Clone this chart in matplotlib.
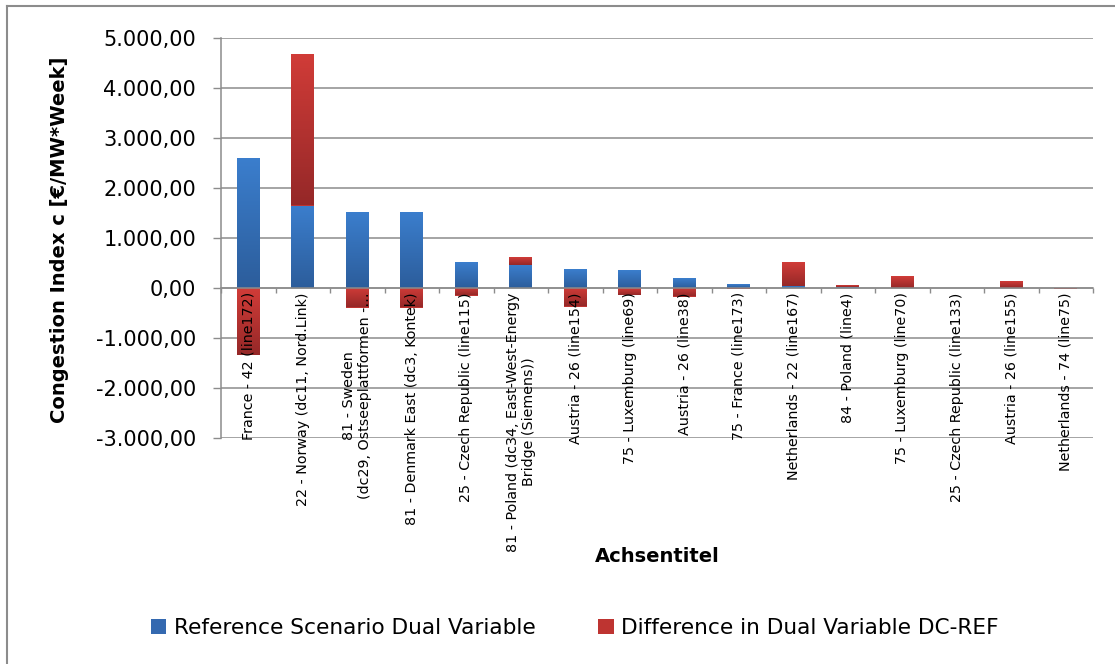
import numpy as np
import matplotlib
matplotlib.use("Agg")
import matplotlib.pyplot as plt
from matplotlib.colors import LinearSegmentedColormap
from matplotlib.patches import Patch
from matplotlib.lines import Line2D
from matplotlib.ticker import FixedLocator, FuncFormatter

plt.rcParams['font.family'] = ['DejaVu Sans']

categories = [
    "France - 42 (line172)",
    "22 - Norway (dc11, Nord.Link)",
    "81 - Sweden\n(dc29, Ostseeplattformen -\u2026",
    "81 - Denmark East (dc3, Kontek)",
    "25 - Czech Republic (line115)",
    "81 - Poland (dc34, East-West-Energy\nBridge (Siemens))",
    "Austria - 26 (line154)",
    "75 - Luxemburg (line69)",
    "Austria - 26 (line38)",
    "75 - France (line173)",
    "Netherlands - 22 (line167)",
    "84 - Poland (line4)",
    "75 - Luxemburg (line70)",
    "25 - Czech Republic (line133)",
    "Austria - 26 (line155)",
    "Netherlands - 74 (line75)",
]
ref_values = [2600, 1650, 1520, 1520, 520, 460, 380, 360, 200, 80, 40, 20, 0, 0, 0, 0]
diff_values = [-1340, 3030, -390, -390, -150, 160, -370, -140, -170, -20, 480, 40, 240, 0, 140, -12]
series_names = ["Reference Scenario Dual Variable", "Difference in Dual Variable DC-REF"]
y_ticks = [-3000, -2000, -1000, 0, 1000, 2000, 3000, 4000, 5000]

W, H = 1115, 664
fig = plt.figure(figsize=(W / 100, H / 100), dpi=100)
ax = fig.add_axes([221 / W, 1 - 438 / H, (1093 - 221) / W, 400 / H])

gray = "#8c8c8c"
for s in ("top", "right"):
    ax.spines[s].set_visible(False)
ax.spines["left"].set_color(gray)
ax.spines["left"].set_linewidth(1.1)
ax.spines["bottom"].set_position(("data", 0))
ax.spines["bottom"].set_color(gray)
ax.spines["bottom"].set_linewidth(1.1)
ax.spines["bottom"].set_zorder(4)

x = np.arange(len(categories))
ref = np.array(ref_values, dtype=float)
diff = np.array(diff_values, dtype=float)
diff_bottom = np.where(diff >= 0, np.maximum(ref, 0), np.minimum(ref, 0))

blue_mid, red_mid = "#3469b0", "#be3431"
blue_cmap = LinearSegmentedColormap.from_list("b", ["#2c5d9b", "#3b7ecd"])
red_cmap = LinearSegmentedColormap.from_list("r", ["#952828", "#d13c38"])

bw = 0.42
bars_ref = ax.bar(x, ref, width=bw, color=blue_mid, zorder=3)
bars_diff = ax.bar(x, diff, width=bw, bottom=diff_bottom, color=red_mid, zorder=3)

grad = np.linspace(0, 1, 256).reshape(-1, 1)
for bars, cmap in ((bars_ref, blue_cmap), (bars_diff, red_cmap)):
    for p in bars:
        bb = p.get_bbox()
        if abs(bb.y1 - bb.y0) < 1e-9:
            continue
        y0, y1 = min(bb.y0, bb.y1), max(bb.y0, bb.y1)
        im = ax.imshow(grad, extent=[bb.x0, bb.x1, y0, y1], origin='lower',
                       aspect='auto', cmap=cmap, zorder=3.5, interpolation='bilinear')
        im.set_clip_path(p)

ax.set_xlim(-0.5, len(categories) - 0.5)
ax.set_ylim(-3000, 5000)

ax.set_yticks(y_ticks)
ax.yaxis.set_major_formatter(FuncFormatter(
    lambda v, pos: f"{v:,.2f}".replace(",", "X").replace(".", ",").replace("X", ".")))
ax.tick_params(axis='y', length=6, width=1, color=gray, pad=12, labelsize=15)
ax.yaxis.grid(True, color=gray, linewidth=1.1, zorder=0)
ax.set_axisbelow(True)

ax.set_xticks(x)
ax.set_xticklabels(categories, rotation=90, ha='center', va='top',
                   multialignment='center', fontsize=10.3)
ax.xaxis.set_minor_locator(FixedLocator(np.arange(len(categories) + 1) - 0.5))
ax.tick_params(axis='x', which='major', length=0, pad=3)
ax.tick_params(axis='x', which='minor', length=3.8, width=1, color=gray)
ax.xaxis.set_zorder(5)

fig.text(60 / W, 1 - 240 / H, "Congestion Index c [\u20ac/MW*Week]", rotation=90,
         ha='center', va='center', fontsize=14, fontweight='bold')
fig.text(657 / W, 1 - 556 / H, "Achsentitel", ha='center', va='center',
         fontsize=14, fontweight='bold')

handles = [Patch(facecolor=blue_mid), Patch(facecolor=red_mid)]
fig.legend(handles, series_names, loc='center', bbox_to_anchor=(575 / W, 1 - 628 / H),
           ncol=2, frameon=False, fontsize=15.6, handlelength=0.7, handleheight=0.7,
           handletextpad=0.35, columnspacing=2.9)

fig.add_artist(Line2D([7 / W, 7 / W], [0, 1 - 6 / H], transform=fig.transFigure,
                      color=gray, linewidth=1.5))
fig.add_artist(Line2D([7 / W, 1], [1 - 6 / H, 1 - 6 / H], transform=fig.transFigure,
                      color=gray, linewidth=1.5))

fig.savefig("out.png", dpi=100)
